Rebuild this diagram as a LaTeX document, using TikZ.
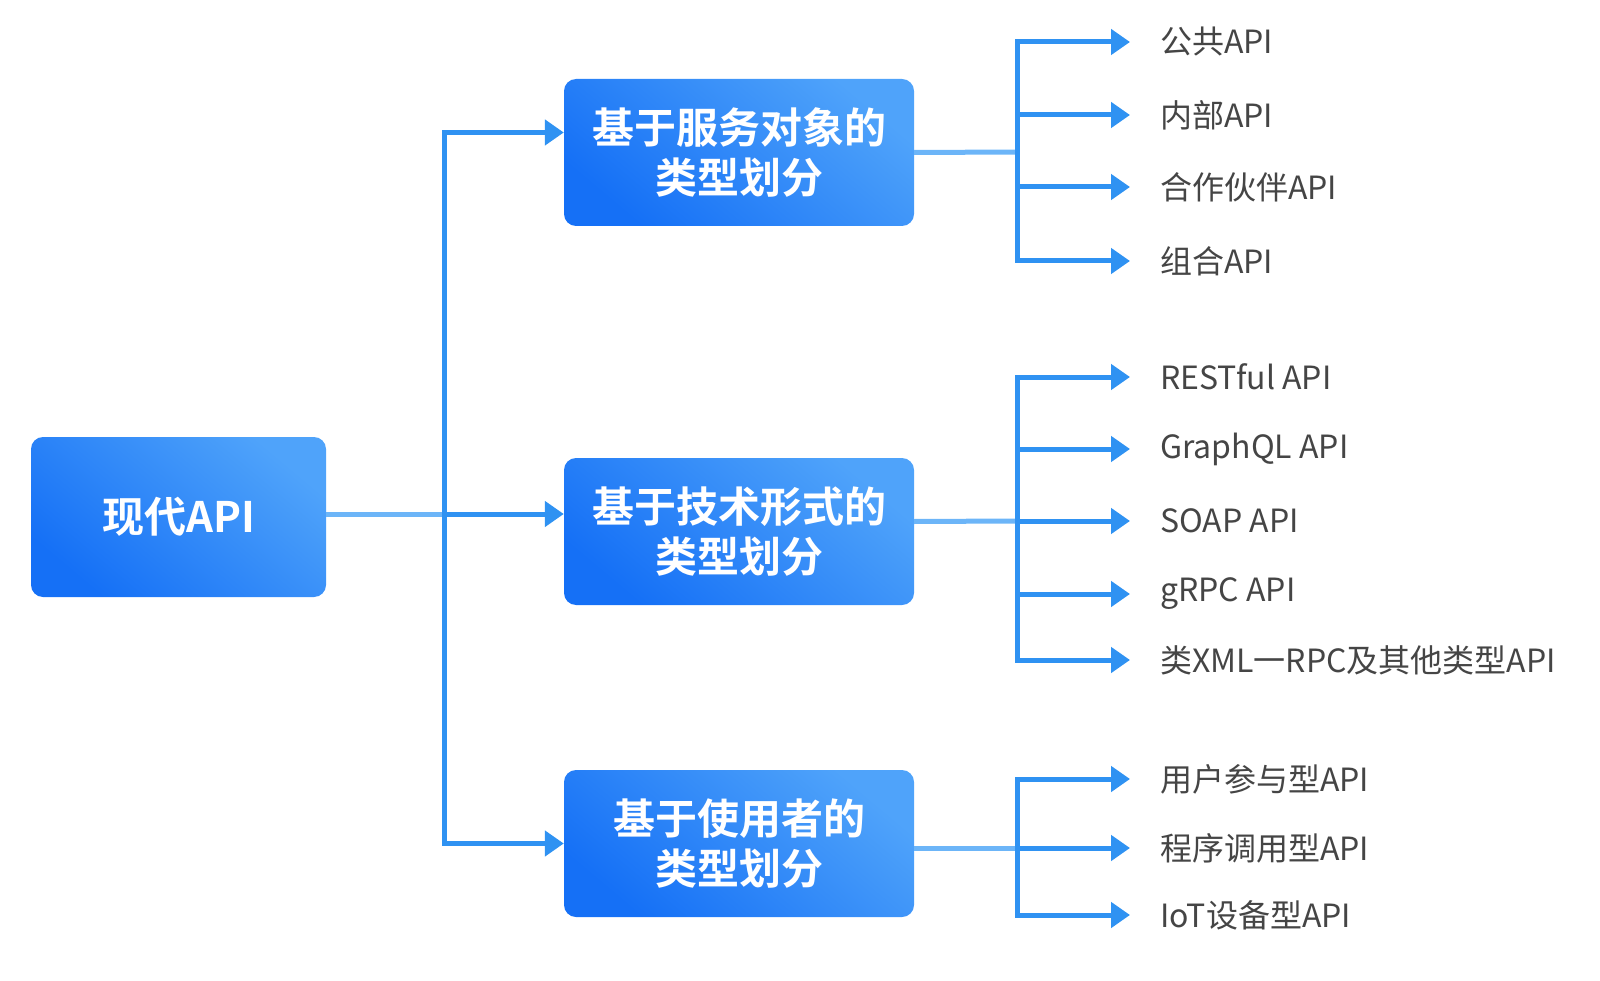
\documentclass[tikz,border=0pt]{standalone}
\usepackage{fontspec}
\setmainfont{Noto Sans CJK SC}
\newfontfamily\boldcjk{Noto Sans CJK SC Bold}
\usetikzlibrary{arrows.meta,calc}
\definecolor{boxdark}{HTML}{1570F6}
\definecolor{boxlight}{HTML}{4FA3FA}
\definecolor{linedark}{HTML}{2F92F2}
\definecolor{linelight}{HTML}{6CB5F8}
\definecolor{txt}{HTML}{454545}
\tikzset{
  catbox/.style={rounded corners=12pt, left color=boxlight, right color=boxdark, shading angle=-40,
    minimum width=350pt, minimum height=147pt, inner sep=0pt, align=center, text=white,
    font=\boldcjk\fontsize{42}{50}\selectfont},
  leaf/.style={anchor=west, inner sep=0pt, text=txt, font=\fontsize{32}{36}\selectfont},
  feed/.style={draw=linelight, line width=5pt},
  branch/.style={draw=linedark, line width=5pt, -{Triangle[length=19pt,width=25pt]}},
}
\begin{document}
\begin{tikzpicture}[x=1pt,y=-1pt]
\useasboundingbox (0,0) rectangle (1600,981);
\node[catbox, minimum width=295pt, minimum height=160pt] (root) at (178.5,517) {现代API};
\node[catbox] (b1) at (739,152.5) {基于服务对象的\\类型划分};
\node[catbox] (b2) at (739,531.5) {基于技术形式的\\类型划分};
\node[catbox] (b3) at (739,843.5) {基于使用者的\\类型划分};

\coordinate (t) at (444,514);
\draw[feed] ([yshift=3pt]root.east) -- (t);
\draw[branch] (t) |- ([yshift=20pt]b1.west);
\draw[branch] (t) -- (t -| b2.west);
\draw[branch] (t) |- (b3.west);

% group 1
\node[leaf] (a1) at (1160,42) {公共API};
\node[leaf] (a2) at (1160,115) {内部API};
\node[leaf] (a3) at (1160,187) {合作伙伴API};
\node[leaf] (a4) at (1160,261) {组合API};
\coordinate (j1) at (1017,152);
\draw[feed] (b1.east) -- (j1);
\foreach \n in {a1,a2,a3,a4} \draw[branch, shorten >=30pt] (j1) |- (\n.west);

% group 2
\node[leaf] (c1) at (1160,377) {RESTful API};
\node[leaf] (c2) at (1160,449) {GraphQL API};
\node[leaf] (c3) at (1160,521) {SOAP API};
\node[leaf] (c4) at (1160,594) {gRPC API};
\node[leaf] (c5) at (1160,660) {类XML一RPC及其他类型API};
\coordinate (j2) at (1017,521);
\draw[feed] ([yshift=10pt]b2.east) -- (j2);
\foreach \n in {c1,c2,c3,c4,c5} \draw[branch, shorten >=30pt] (j2) |- (\n.west);

% group 3
\node[leaf] (d1) at (1160,779) {用户参与型API};
\node[leaf] (d2) at (1160,848) {程序调用型API};
\node[leaf] (d3) at (1160,915) {IoT设备型API};
\coordinate (j3) at (1017,848);
\draw[feed] ([yshift=-4.5pt]b3.east) -- (j3);
\foreach \n in {d1,d2,d3} \draw[branch, shorten >=30pt] (j3) |- (\n.west);
\end{tikzpicture}
\end{document}
